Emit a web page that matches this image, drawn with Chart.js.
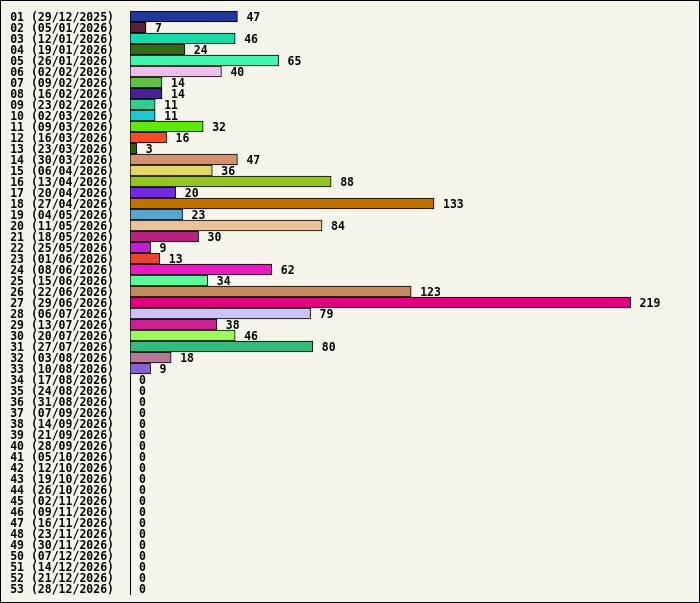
<!DOCTYPE html>
<html>
<head>
<meta charset="utf-8">
<script src="https://cdn.jsdelivr.net/npm/chart.js@4/dist/chart.umd.min.js"></script>
<style>
  html, body { margin: 0; padding: 0; background: #f5f5eb; }
  #c { display: block; }
</style>
</head>
<body>
<canvas id="c" width="700" height="603"></canvas>
<script>
const WEEKS = [
  '01 (29/12/2025)','02 (05/01/2026)','03 (12/01/2026)','04 (19/01/2026)','05 (26/01/2026)',
  '06 (02/02/2026)','07 (09/02/2026)','08 (16/02/2026)','09 (23/02/2026)','10 (02/03/2026)',
  '11 (09/03/2026)','12 (16/03/2026)','13 (23/03/2026)','14 (30/03/2026)','15 (06/04/2026)',
  '16 (13/04/2026)','17 (20/04/2026)','18 (27/04/2026)','19 (04/05/2026)','20 (11/05/2026)',
  '21 (18/05/2026)','22 (25/05/2026)','23 (01/06/2026)','24 (08/06/2026)','25 (15/06/2026)',
  '26 (22/06/2026)','27 (29/06/2026)','28 (06/07/2026)','29 (13/07/2026)','30 (20/07/2026)',
  '31 (27/07/2026)','32 (03/08/2026)','33 (10/08/2026)','34 (17/08/2026)','35 (24/08/2026)',
  '36 (31/08/2026)','37 (07/09/2026)','38 (14/09/2026)','39 (21/09/2026)','40 (28/09/2026)',
  '41 (05/10/2026)','42 (12/10/2026)','43 (19/10/2026)','44 (26/10/2026)','45 (02/11/2026)',
  '46 (09/11/2026)','47 (16/11/2026)','48 (23/11/2026)','49 (30/11/2026)','50 (07/12/2026)',
  '51 (14/12/2026)','52 (21/12/2026)','53 (28/12/2026)'
];
const COUNTS = [
  47,7,46,24,65,40,14,14,11,11,
  32,16,3,47,36,88,20,133,23,84,
  30,9,13,62,34,123,219,79,38,46,
  80,18,9,0,0,0,0,0,0,0,
  0,0,0,0,0,0,0,0,0,0,
  0,0,0
];
const COLORS = [
  '#233797','#5c1f3a','#18d9aa','#336b14','#44f5ae','#eebfeb','#60c044','#4b2196','#33cc90','#1fc9d4',
  '#5fe80a','#fa4a28','#2d5e10','#d49170','#e2d666','#94c41f','#7529e0','#bf7200','#56a6cf','#eac29a',
  '#b8227f','#c01fcd','#e84530','#e81ac0','#57fa94','#c48a5e','#e0007e','#c9c4f2','#cc1f94','#9bfa5a',
  '#35ba7d','#b87896','#8462d4'
];
const X_MAX = 245;
const FONT = { family: "'DejaVu Sans Mono', monospace", size: 11.5, weight: 'bold' };

const frame = {
  id: 'frame',
  beforeDraw(chart) {
    const ctx = chart.ctx;
    ctx.save();
    ctx.fillStyle = '#f5f5eb';
    ctx.fillRect(0, 0, chart.width, chart.height);
    ctx.strokeStyle = '#000';
    ctx.lineWidth = 1;
    ctx.strokeRect(0.5, 0.5, chart.width - 1, chart.height - 1);
    ctx.restore();
  }
};

const valueLabels = {
  id: 'valueLabels',
  afterDatasetsDraw(chart) {
    const ctx = chart.ctx;
    const meta = chart.getDatasetMeta(0);
    ctx.save();
    ctx.font = `${FONT.weight} ${FONT.size}px ${FONT.family}`;
    ctx.fillStyle = '#000';
    ctx.textBaseline = 'middle';
    ctx.textAlign = 'left';
    meta.data.forEach((bar, i) => {
      ctx.fillText(String(COUNTS[i]), bar.x + 9, bar.y + 1.5);
    });
    ctx.restore();
  }
};

new Chart(document.getElementById('c'), {
  type: 'bar',
  data: {
    labels: WEEKS,
    datasets: [{
      data: COUNTS,
      backgroundColor: COLORS,
      borderColor: '#000',
      borderWidth: 1,
      borderSkipped: false,
      barPercentage: 1,
      categoryPercentage: 1
    }]
  },
  options: {
    indexAxis: 'y',
    responsive: false,
    animation: false,
    layout: { padding: { top: 11, bottom: 9, right: 10, left: 0 } },
    plugins: { legend: { display: false }, tooltip: { enabled: false } },
    scales: {
      x: { display: false, min: 0, max: X_MAX },
      y: {
        afterFit(scale) {
          scale.width = 130;
          scale.paddingTop = 0;
          scale.paddingBottom = 0;
        },
        grid: { display: false, drawTicks: false },
        border: { display: true, color: '#000', width: 1 },
        ticks: { color: '#000', font: FONT, padding: 16, labelOffset: 1.5, autoSkip: false }
      }
    }
  },
  plugins: [frame, valueLabels]
});
</script>
</body>
</html>
